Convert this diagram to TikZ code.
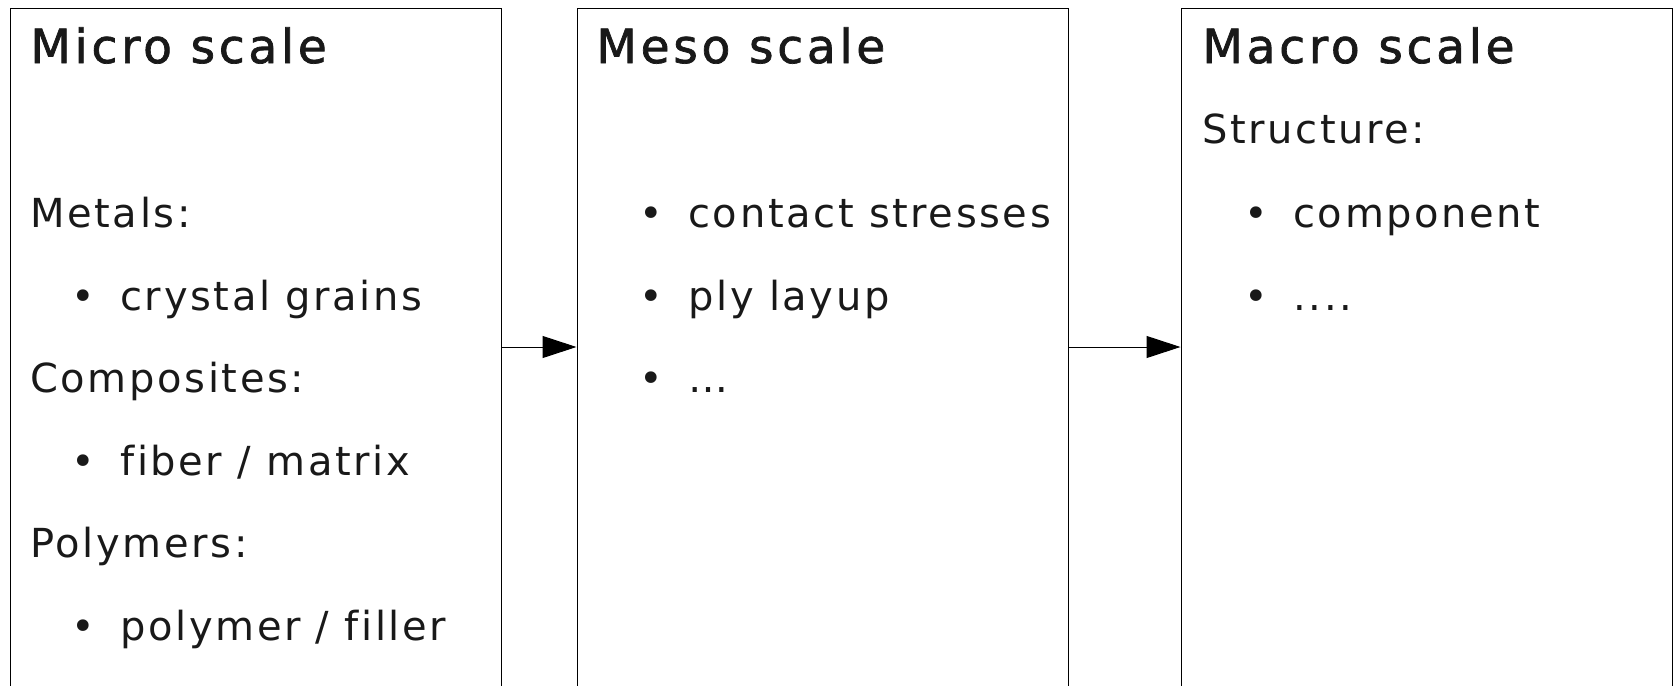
\documentclass[tikz,border=0pt]{standalone}
\usepackage{fontspec}
\setmainfont{DejaVu Sans}[LetterSpace=6.5,Ligatures=NoCommon]
\newfontfamily\headfont{DejaVu Sans}[LetterSpace=8,FakeBold=1.5,Ligatures=NoCommon]
\usetikzlibrary{arrows.meta,positioning}
\tikzstyle{scalebox} = [rectangle, draw=black, line width=0.5pt, minimum width=245.5pt, minimum height=339pt, inner sep=0pt]
\tikzstyle{head} = [anchor=base west, inner sep=0pt, text=black!90, font=\headfont\fontsize{23.5pt}{27pt}\selectfont]
\tikzstyle{txt} = [anchor=base west, inner sep=0pt, text=black!90, font=\fontsize{20pt}{24pt}\selectfont]
\tikzstyle{arrow} = [line width=0.5pt, -{Triangle[length=17pt, width=11pt]}]
\newcommand{\bul}{\llap{\textbullet\hspace{12.5pt}}}

\begin{document}
\begin{tikzpicture}[x=0.5pt, y=-0.5pt]
	\useasboundingbox (0,0) rectangle (1674,685);
	\node (micro) [scalebox] at (255.5,347) {};
	\node (meso) [scalebox] at (822.5,347) {};
	\node (macro) [scalebox] at (1426.5,347) {};
	\draw [arrow] (micro) -- (meso);
	\draw [arrow] (meso) -- (macro);
	% micro scale
	\node (microhead) [head] at (30,63) {Micro scale};
	\node (metals) [txt] at (30,227) {Metals:};
	\node (grains) [txt] at (120,310) {\bul crystal grains};
	\node (composites) [txt] at (30,392) {Composites:};
	\node (fiber) [txt] at (120,475) {\bul fiber / matrix};
	\node (polymers) [txt] at (30,557) {Polymers:};
	\node (filler) [txt] at (120,640) {\bul polymer / filler};
	% meso scale
	\node (mesohead) [head] at (596,63) {Meso scale};
	\node (contact) [txt] at (688,227) {\bul contact stresses};
	\node (layup) [txt] at (688,310) {\bul ply layup};
	\node (mesodots) [txt] at (688,392) {\bul …};
	% macro scale
	\node (macrohead) [head] at (1202,63) {Macro scale};
	\node (structure) [txt] at (1202,143) {Structure:};
	\node (component) [txt] at (1293,227) {\bul component};
	\node (macrodots) [txt] at (1293,310) {\bul ....};
\end{tikzpicture}
\end{document}
